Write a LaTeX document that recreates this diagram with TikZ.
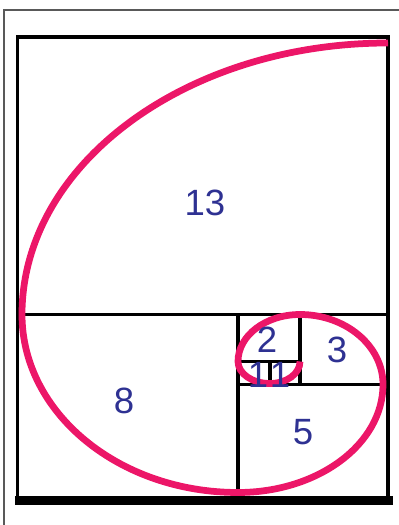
\documentclass[tikz,border=0pt]{standalone}
\usepackage{fontspec}
\setmainfont{Liberation Sans}
\usepackage{tikz}

\definecolor{spiralpink}{RGB}{236,22,104}
\definecolor{numblue}{RGB}{46,49,146}

\begin{document}
\begin{tikzpicture}[
  x=0.025cm, y=0.025cm,
  grid/.style={draw=black, line width=2.6pt},
  base/.style={draw=black, line width=5.8pt},
  frame/.style={draw=black!65, line width=0.8pt},
  spiral/.style={draw=spiralpink, line width=4.8pt},
  num/.style={font=\fontsize{26}{26}\selectfont, text=numblue, inner sep=0pt}
]
% Coordinates are pixels of the 399x525 original, measured from its lower
% left corner; the page frame runs off the right and bottom edges, so it is
% clipped to the bounding box.
\useasboundingbox (0,0) rectangle (399,525);
\begin{scope}
  \clip (0,0) rectangle (399,525);
  \draw[frame] (4,515) rectangle (420,-20);
\end{scope}
% squares 13, 8, 5, 3, 2, 1, 1
\draw[grid] (17.5,24.5) -- (17.5,488) -- (388,488) -- (388,24.5);
\draw[base] (15,24.5) -- (393,24.5);
\draw[grid] (17.5,210.5) -- (388,210.5);
\draw[grid] (238,210.5) -- (238,24.5);
\draw[grid] (238,140.5) -- (388,140.5);
\draw[grid] (300,210.5) -- (300,140.5);
\draw[grid] (238,163.5) -- (300,163.5);
\draw[grid] (270,163.5) -- (270,140.5);
% one quarter ellipse per square
\draw[spiral] (388,482)
  arc[start angle=90, end angle=180, x radius=366, y radius=271.5]
  arc[start angle=180, end angle=270, x radius=216, y radius=178]
  arc[start angle=270, end angle=360, x radius=145, y radius=108]
  arc[start angle=0, end angle=90, x radius=83, y radius=70]
  arc[start angle=90, end angle=180, x radius=62, y radius=47]
  arc[start angle=180, end angle=270, x radius=32, y radius=22]
  arc[start angle=270, end angle=360, x radius=30, y radius=22];
\node[num] (n13) at (205,322) {13};
\node[num] (n8) at (124,124) {8};
\node[num] (n5) at (303,93) {5};
\node[num] (n3) at (337,175) {3};
\node[num] (n2) at (267,185.5) {2};
\node[num] (n1a) at (258,150.5) {1};
\node[num] (n1b) at (280,150.5) {1};
\end{tikzpicture}
\end{document}
